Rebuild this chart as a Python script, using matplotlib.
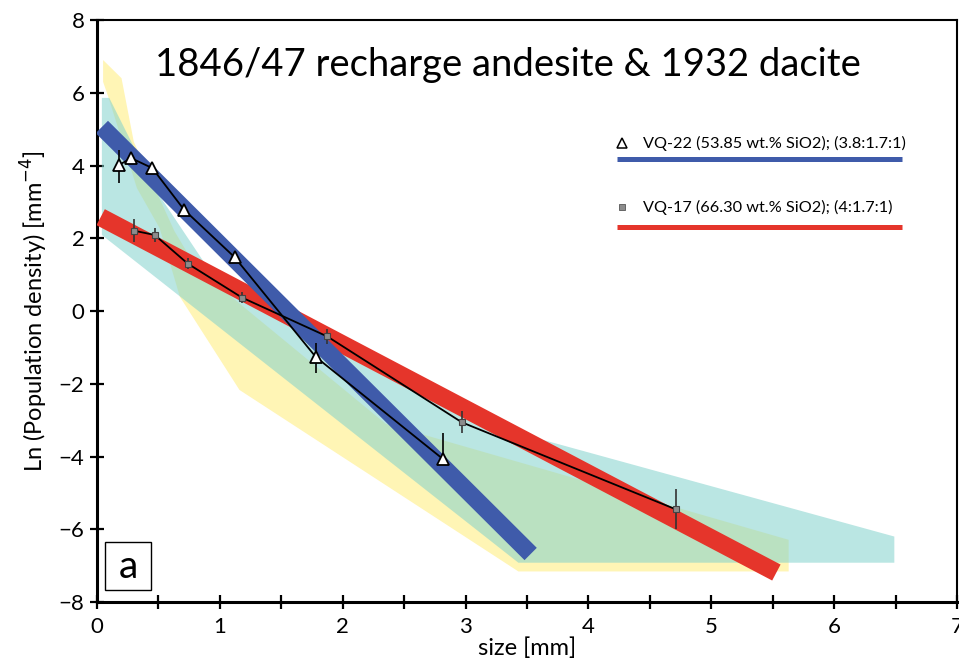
import matplotlib
matplotlib.use("Agg")
import matplotlib.pyplot as plt
from matplotlib.patches import Polygon, Rectangle
from matplotlib.ticker import MultipleLocator

plt.rcParams['font.family'] = ['Lato', 'DejaVu Sans']

# VQ-22 (1846/47 recharge andesite), crystal size distribution
size_vq22 = [0.18, 0.28, 0.45, 0.71, 1.12, 1.78, 2.82]
ln_n_vq22 = [4.02, 4.20, 3.93, 2.78, 1.48, -1.26, -4.08]
err_lo_vq22 = [0.50, 0.0, 0.0, 0.0, 0.0, 0.45, 0.0]
err_hi_vq22 = [0.41, 0.0, 0.0, 0.0, 0.0, 0.37, 0.73]

# VQ-17 (1932 dacite)
size_vq17 = [0.30, 0.47, 0.74, 1.18, 1.875, 2.97, 4.71]
ln_n_vq17 = [2.21, 2.09, 1.30, 0.37, -0.70, -3.06, -5.45]
err_vq17 = [0.32, 0.20, 0.15, 0.15, 0.20, 0.30, 0.55]

# linear CSD fits
fit_x_vq22 = [0.04, 3.53]
fit_y_vq22 = [5.06, -6.68]
fit_x_vq17 = [0.03, 5.53]
fit_y_vq17 = [2.58, -7.19]

# envelope fields of other eruptions
field_yellow = [(0.05, 6.9), (0.2, 6.4), (0.3, 4.65), (0.63, 2.2), (0.81, 1.18),
                (2.35, -3.1), (5.63, -6.29), (5.63, -7.16), (3.43, -7.16),
                (1.16, -2.17), (0.675, 0.39), (0.51, 2.28), (0.325, 3.38),
                (0.095, 5.86), (0.05, 6.3)]
field_cyan = [(0.04, 5.86), (0.1, 5.86), (0.47, 3.37), (0.87, 1.35),
              (3.54, -3.46), (6.49, -6.2), (6.49, -6.92), (3.43, -6.92),
              (0.04, 2.09)]

legend_vq22 = "VQ-22 (53.85 wt.% SiO2); (3.8:1.7:1)"
legend_vq17 = "VQ-17 (66.30 wt.% SiO2); (4:1.7:1)"

fig = plt.figure(figsize=(9.59, 6.63), dpi=100)
ax = fig.add_axes([0.1011, 0.092, 0.8968, 0.8778])

ax.add_patch(Polygon(field_yellow, closed=True, facecolor='#FFF5B5',
                     edgecolor='none', zorder=1))
ax.add_patch(Polygon(field_cyan, closed=True, facecolor='#82D2CC', alpha=0.55,
                     edgecolor='none', zorder=2))

ax.plot(fit_x_vq17, fit_y_vq17, color='#E5352B', lw=13, solid_capstyle='butt', zorder=3)
ax.plot(fit_x_vq22, fit_y_vq22, color='#3F5BAA', lw=12.5, solid_capstyle='butt', zorder=4)

ax.errorbar(size_vq17, ln_n_vq17, yerr=err_vq17, fmt='none', ecolor='#333333',
            elinewidth=1.2, capsize=0, zorder=5)
ax.plot(size_vq17, ln_n_vq17, color='black', lw=1.3, marker='s', ms=5,
        mfc='#8C8C8C', mec='#444444', mew=0.8, zorder=6)

ax.errorbar(size_vq22, ln_n_vq22, yerr=[err_lo_vq22, err_hi_vq22], fmt='none',
            ecolor='black', elinewidth=1.2, capsize=0, zorder=5)
ax.plot(size_vq22, ln_n_vq22, color='black', lw=1.3, marker='^', ms=9,
        mfc='white', mec='black', mew=1.3, zorder=7)

# hand-made legend
ax.plot([0.6105], [0.7887], transform=ax.transAxes, marker='^', ms=6.5,
        mfc='white', mec='black', mew=1.1, ls='none')
ax.text(0.6349, 0.7887, legend_vq22, transform=ax.transAxes, fontsize=11.7,
        va='center', ha='left')
ax.plot([0.6047, 0.9360], [0.7612, 0.7612], transform=ax.transAxes,
        color='#3F5BAA', lw=3.6, solid_capstyle='butt')
ax.plot([0.6101], [0.6782], transform=ax.transAxes, marker='s', ms=4,
        mfc='#8C8C8C', mec='#555555', mew=0.6, ls='none')
ax.text(0.6349, 0.6782, legend_vq17, transform=ax.transAxes, fontsize=11.7,
        va='center', ha='left')
ax.plot([0.6047, 0.9360], [0.6449, 0.6449], transform=ax.transAxes,
        color='#E5352B', lw=3.6, solid_capstyle='butt')

# panel label
ax.add_patch(Rectangle((0.0093, 0.0206), 0.0535, 0.0825, transform=ax.transAxes,
                       facecolor='white', edgecolor='black', lw=1.0, zorder=8))
ax.text(0.036, 0.060, 'a', transform=ax.transAxes, fontsize=28,
        ha='center', va='center', zorder=9)

ax.text(0.478, 0.922, '1846/47 recharge andesite & 1932 dacite',
        transform=ax.transAxes, fontsize=27.5, ha='center', va='center')

ax.set_xlim(0, 7)
ax.set_ylim(-8, 8)
ax.xaxis.set_major_locator(MultipleLocator(1))
ax.xaxis.set_minor_locator(MultipleLocator(0.5))
ax.yaxis.set_major_locator(MultipleLocator(2))
ax.tick_params(which='both', direction='inout', length=10, width=1.6,
               labelsize=16, top=False, right=False)
ax.tick_params(axis='x', pad=6)
ax.tick_params(axis='y', pad=4)

for side in ['left', 'bottom']:
    ax.spines[side].set_linewidth(2.2)
for side in ['top', 'right']:
    ax.spines[side].set_linewidth(1.5)

ax.set_xlabel('size [mm]', fontsize=17, labelpad=0)
ax.set_ylabel('Ln (Population density) [mm$^{-4}$]', fontsize=17, labelpad=6)

fig.savefig('out.png', dpi=100)
